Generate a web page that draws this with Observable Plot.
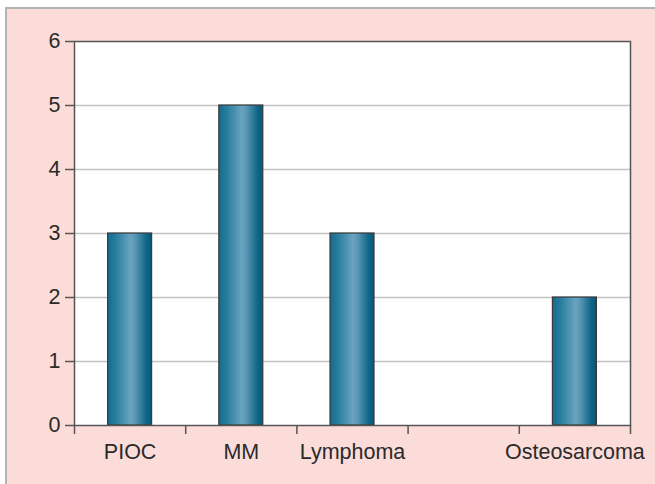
<!DOCTYPE html>
<html>
<head>
<meta charset="utf-8">
<script src="https://cdn.jsdelivr.net/npm/d3@7"></script>
<script src="https://cdn.jsdelivr.net/npm/@observablehq/plot@0.6"></script>
<style>
  html, body { margin: 0; padding: 0; background: #ffffff; }
  #wrap { position: relative; width: 655px; height: 484px; overflow: hidden; }
  #bg { position: absolute; left: 5px; top: 7px; right: 0; bottom: 0;
        background: #fbdcd8; border-left: 2px solid #b4b4b4; border-top: 2px solid #b4b4b4; }
  #chart { position: absolute; left: 0; top: 0; }
  #chart svg { background: transparent; }
  #chart svg text { font-size: 21.5px !important; font-family: Arial, 'Liberation Sans', Helvetica, sans-serif !important; fill: #2a2a2a; }
</style>
</head>
<body>
<div id="wrap"><div id="bg"></div><div id="chart"></div></div>
<script>
const categories = ["PIOC", "MM", "Lymphoma", " ", "Osteosarcoma"];
const values = [3, 5, 3, null, 2];
const yTicks = [0, 1, 2, 3, 4, 5, 6];

const data = categories.map((c, i) => ({category: c, value: values[i]}));
const bars = data.filter(d => d.value != null);

const W = 655, H = 484;
const mL = 74, mR = 25, mT = 41, mB = 59;
const step = (W - mL - mR) / categories.length;
const barW = 44;
const inset = (step - barW) / 2;
const font = "Arial, 'Liberation Sans', Helvetica, sans-serif";

const plot = Plot.plot({
  width: W,
  height: H,
  marginLeft: mL,
  marginRight: mR,
  marginTop: mT,
  marginBottom: mB,
  style: {background: "transparent", fontFamily: font, fontSize: "21.5px", color: "#2a2a2a"},
  x: {type: "band", domain: categories, padding: 0, round: false, label: null},
  y: {domain: [0, 6], ticks: yTicks, label: null},
  marks: [
    Plot.frame({fill: "white", stroke: null}),
    Plot.ruleY(yTicks.filter(t => t > 0 && t < 6), {stroke: "#c2c2c2", strokeWidth: 1.5}),
    Plot.barY(bars, {x: "category", y: "value", fill: "url(#barGrad)", stroke: "#3a3a3a", strokeWidth: 1.2, insetLeft: inset, insetRight: inset}),
    Plot.frame({stroke: "#555555", strokeWidth: 1.5}),
    Plot.axisY({ticks: yTicks, tickSize: 9, tickPadding: 5, tickFormat: d3.format("d"), stroke: "#555555", strokeWidth: 1.5, fill: "#2a2a2a"}),
    Plot.axisX({tickSize: 9, dx: -step / 2, tickFormat: () => "", stroke: "#555555", strokeWidth: 1.5}),
    Plot.axisX({ticks: [categories[categories.length - 1]], tickSize: 9, dx: step / 2, tickFormat: () => "", stroke: "#555555", strokeWidth: 1.5}),
    Plot.axisX({tickSize: 0, tickPadding: 18, fill: "#2a2a2a"})
  ]
});

const svg = d3.select(plot);
const defs = svg.insert("defs", ":first-child");
const g = defs.append("linearGradient").attr("id", "barGrad").attr("x1", "0").attr("x2", "1").attr("y1", "0").attr("y2", "0");
[[0, "#136b8e"], [0.2, "#2a7fa0"], [0.52, "#6aa3bf"], [0.62, "#5b98b5"], [0.88, "#0f6689"], [1, "#0a5676"]]
  .forEach(([o, c]) => g.append("stop").attr("offset", o).attr("stop-color", c));

document.getElementById("chart").appendChild(plot);
</script>
</body>
</html>
